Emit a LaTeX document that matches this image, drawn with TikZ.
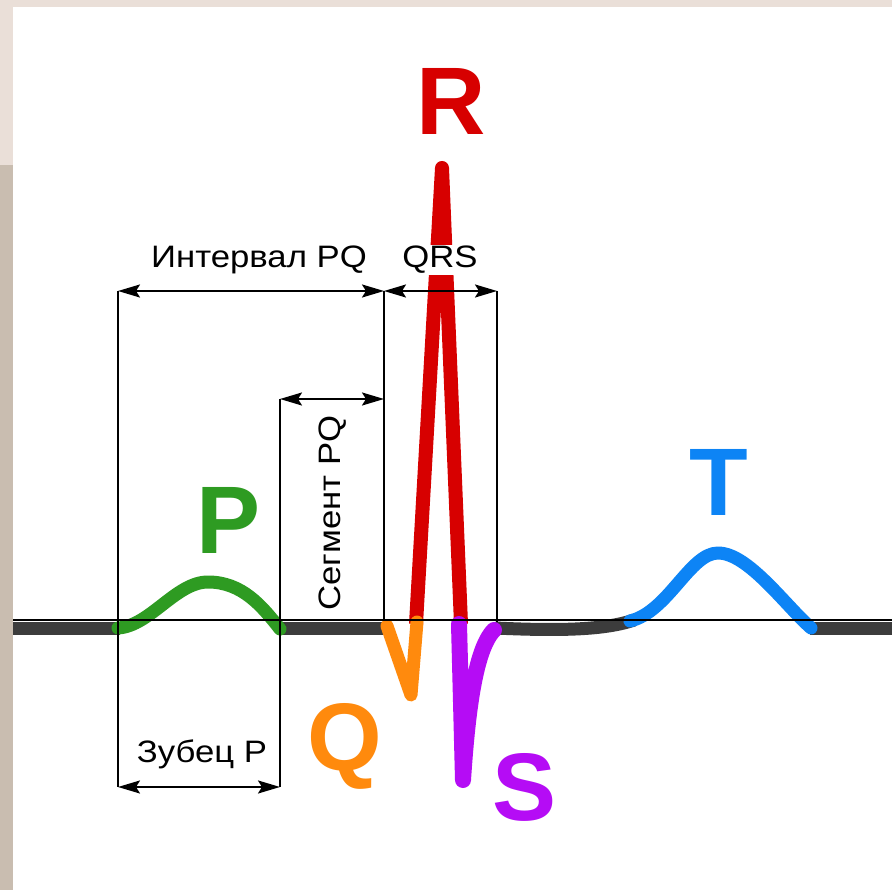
\documentclass[tikz,border=0pt]{standalone}
\usepackage{fontspec}
\setmainfont{Liberation Sans}
\newfontfamily\dimfont{Liberation Sans}[FakeStretch=1.12]
\usetikzlibrary{arrows.meta}
\definecolor{paper}{HTML}{EADFD8}
\definecolor{paperdark}{HTML}{C9BDB0}
\definecolor{trace}{HTML}{3C3C3C}
\definecolor{pgreen}{HTML}{2E9B22}
\definecolor{qorange}{HTML}{FF8A0D}
\definecolor{rred}{HTML}{D70000}
\definecolor{spurple}{HTML}{B50CF5}
\definecolor{tblue}{HTML}{0D84F5}
\tikzset{
  wave/.style={line width=13pt, line cap=round, line join=round},
  base/.style={line width=13pt, line cap=butt, color=trace},
  ext/.style={line width=1.8pt, color=black},
  dim/.style={{Stealth[length=22pt,width=13pt,inset=4pt]}-{Stealth[length=22pt,width=13pt,inset=4pt]},
    line width=2pt},
  dimlab/.style={font=\dimfont\fontsize{31pt}{33pt}\selectfont, inner sep=0pt, anchor=base},
  wavelab/.style={font=\bfseries\fontsize{96pt}{96pt}\selectfont, inner sep=0pt, anchor=base},
}
\begin{document}
\begin{tikzpicture}[x=1pt, y=-1pt]
  \useasboundingbox (0,0) rectangle (892,890);
  \fill[paper] (0,0) rectangle (892,890);
  \fill[paperdark] (0,165) rectangle (13,890);
  \fill[white] (13,7) rectangle (892,890);

  \draw[base] (13,628) -- (120,628);
  \draw[base] (278,628) -- (388,628);
  \draw[base] (495,628) .. controls (560,631) and (605,630) .. (634,620);
  \draw[base] (810,628) -- (892,628);
  \draw[wave, pgreen] (118,628) .. controls (150,626) and (176,582) .. (208,582)
    .. controls (242,582) and (262,606) .. (280,629);
  \draw[wave, rred, line width=14pt, line cap=butt] (416,624) -- (442,168) -- (461,624);
  \draw[wave, qorange] (387,626) -- (411,695) -- (417,622);
  \draw[wave, spurple, line width=16pt] (459,624) -- (463,780)
    .. controls (467,720) and (474,650) .. (494,630);
  \draw[wave, tblue] (630,621) .. controls (668,612) and (690,553) .. (718,553)
    .. controls (748,553) and (785,605) .. (811,628);

  \coordinate (isoL) at (13,620);
  \coordinate (isoR) at (892,620);
  \coordinate (pqA) at (118,291);
  \coordinate (pqB) at (384,291);
  \coordinate (qrsB) at (497,291);
  \coordinate (segA) at (280,399);
  \coordinate (segB) at (384,399);
  \coordinate (zbA) at (118,787);
  \coordinate (zbB) at (280,787);
  \coordinate (pqFoot) at (384,620);
  \coordinate (qrsFoot) at (497,622);
  \draw[ext] (isoL) -- (isoR);
  \foreach \i/\j in {pqA/zbA, segA/zbB, pqB/pqFoot, qrsB/qrsFoot} \draw[ext] (\i) -- (\j);

  \node[dimlab, fill=white, inner sep=1pt] (qrs) at (440,268) {QRS};
  \node[dimlab] (interval) at (259,268) {Интервал PQ};
  \node[dimlab, rotate=90] (segment) at (340,513) {Сегмент PQ};
  \node[dimlab] (zubec) at (202,762) {Зубец P};
  \foreach \i/\j in {pqA/pqB, pqB/qrsB, segA/segB, zbA/zbB} \draw[dim] (\i) -- (\j);

  \node[wavelab, text=rred] (R) at (451,135) {R};
  \node[wavelab, text=pgreen] (P) at (229,553) {P};
  \node[wavelab, text=tblue] (T) at (719,515) {T};
  \node[wavelab, text=qorange] (Q) at (345,770) {Q};
  \node[wavelab, text=spurple] (S) at (525,820) {S};
\end{tikzpicture}
\end{document}
